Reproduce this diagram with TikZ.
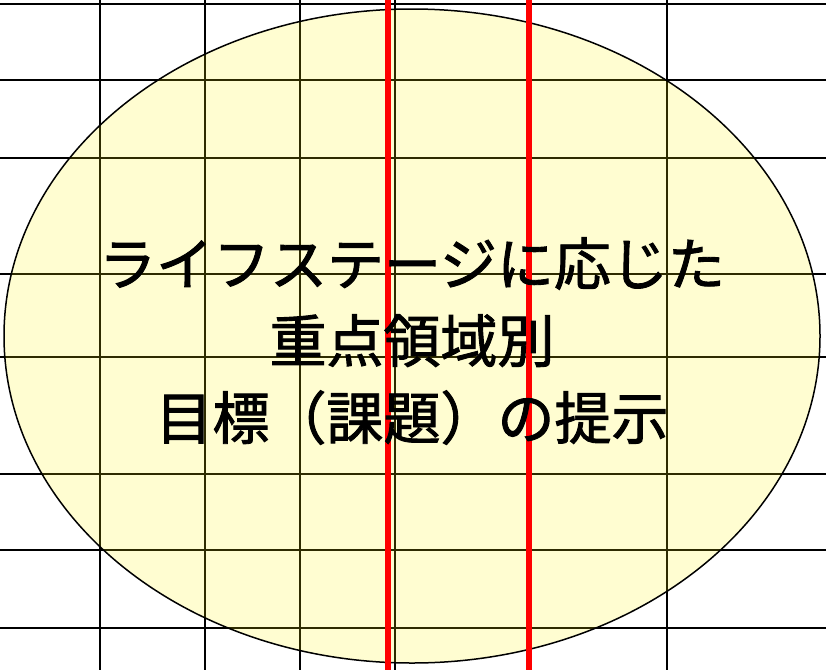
\documentclass[tikz,border=0pt]{standalone}
\usepackage{fontspec}
\newfontfamily\jpfont[FakeBold=1.6]{Noto Sans CJK JP}
\usetikzlibrary{shapes.geometric}
\tikzset{
  gridline/.style={black, line width=2.8pt},
  redline/.style={red, line width=6.5pt},
  bubble/.style={ellipse, draw=black, line width=1.5pt, fill=yellow, fill opacity=0.18, draw opacity=1,
    minimum width=816pt, minimum height=654pt, inner sep=0pt},
  label/.style={font=\jpfont\fontsize{57}{77}\selectfont, align=center, text=black}
}
\begin{document}
\begin{tikzpicture}[x=1pt,y=-1pt]
\useasboundingbox (0,0) rectangle (826,670);
% grid
\foreach \yy in {4,80,158,274,357,474,550,628}
  \draw[gridline] (0,\yy) -- (826,\yy);
\foreach \xx in {100,205,300,395,667}
  \draw[gridline] (\xx,0) -- (\xx,670);
% ellipse
\node[bubble] (oval) at (412,336) {};
% red lines
\draw[redline] (388,0) -- (388,670);
\draw[redline] (529,0) -- (529,670);
% text
\node[label] (txt) at (412,341) {ライフステージに応じた\\重点領域別\\目標（課題）の提示};
\end{tikzpicture}
\end{document}
